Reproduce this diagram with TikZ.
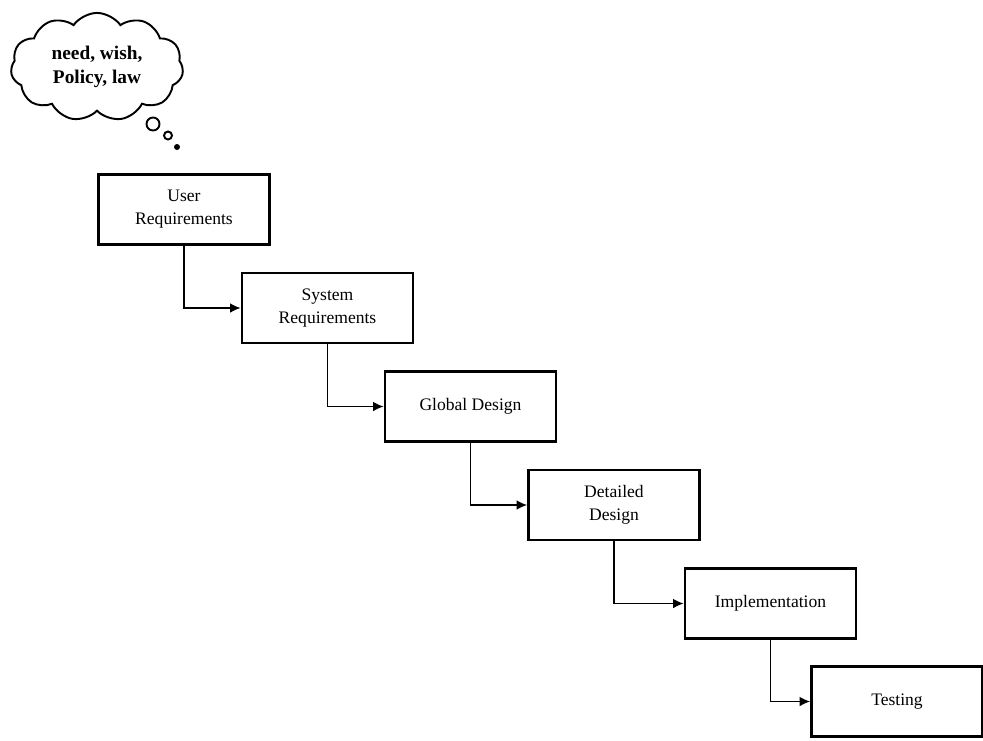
\documentclass[tikz,border=0pt]{standalone}
\usepackage{fontspec}
\setmainfont{Liberation Serif}
\usepackage{tikz}
\usetikzlibrary{
  shapes.symbols,%
  arrows.meta,
  positioning
}
\tikzset{>={Latex[length=6pt, width=5.5pt]}}
\tikzset{font=\fontsize{10}{13}\selectfont}
\tikzset{stage/.style={draw, line width=1.6pt, minimum width=3.42cm,
    minimum height=1.40cm, align=center, inner sep=2pt},
  flow/.style={->, line width=0.8pt}}

\begin{document}
\begin{tikzpicture}
      \useasboundingbox (0, 0) rectangle (19.66, -14.8);%
      \node [cloud, draw, line width=1.1pt, cloud puffs=11, cloud puff arc=110,
        aspect=1.6, minimum width=3.45cm, minimum height=2.15cm, align=center,
        font=\fontsize{11}{14}\selectfont\bfseries] (wish) at (1.94, -1.34)
        {need, wish,\\Policy, law};%
      \draw [line width=1.1pt] (3.06, -2.48) circle (0.13);%
      \draw [line width=1.1pt] (3.36, -2.71) circle (0.08);%
      \fill (3.54, -2.94) circle (0.06);%
      \node [stage] (user) at (3.68, -4.19) {User\\Requirements};%
      \node [stage] (system) at (6.55, -6.16) {System\\Requirements};%
      \node [stage] (global) at (9.41, -8.13) {Global Design};%
      \node [stage] (detailed) at (12.28, -10.10) {Detailed\\Design};%
      \node [stage] (impl) at (15.41, -12.07) {Implementation};%
      \node [stage] (testing) at (17.94, -14.03) {Testing};%
      \draw [flow] (user.south) |- (system.west);%
      \draw [flow] (system.south) |- (global.west);%
      \draw [flow] (global.south) |- (detailed.west);%
      \draw [flow] (detailed.south) |- (impl.west);%
      \draw [flow] (impl.south) |- (testing.west);%
    \end{tikzpicture}
\end{document}
